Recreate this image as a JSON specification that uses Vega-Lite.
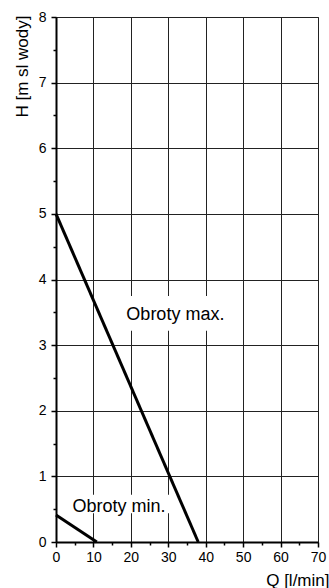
{
  "$schema": "https://vega.github.io/schema/vega-lite/v6.json",
  "width": 262,
  "height": 525,
  "autosize": "none",
  "padding": {"left": 56, "top": 17, "right": 11, "bottom": 46},
  "background": "white",
  "config": {
    "view": {"stroke": "#555", "strokeWidth": 1},
    "font": "Liberation Sans",
    "axis": {
      "labelFont": "Liberation Sans",
      "titleFont": "Liberation Sans",
      "labelColor": "#000",
      "titleColor": "#000",
      "labelFontSize": 14,
      "titleFontSize": 17,
      "titleFontWeight": "normal",
      "domainColor": "#000",
      "domainWidth": 2,
      "tickColor": "#000",
      "tickWidth": 1.5,
      "gridColor": "#222",
      "gridWidth": 1,
      "labelOverlap": false,
      "labelFlush": false,
      "labelBound": false
    }
  },
  "datasets": {
    "curves": [
      {"series": "max", "Q": 0, "H": 5},
      {"series": "max", "Q": 38, "H": 0},
      {"series": "min", "Q": 0, "H": 0.41},
      {"series": "min", "Q": 10.9, "H": 0}
    ],
    "labels": [
      {"text": "Obroty max.", "Q": 18.8, "H": 3.46, "Q1": 18.4, "Q2": 46.5, "H1": 3.22, "H2": 3.75},
      {"text": "Obroty min.", "Q": 4.4, "H": 0.53, "Q1": 4.1, "Q2": 30.2, "H1": 0.44, "H2": 0.72}
    ]
  },
  "resolve": {"axis": {"x": "independent", "y": "independent"}},
  "layer": [
    {
      "data": {"name": "labels"},
      "mark": {"type": "rect", "color": "white"},
      "encoding": {
        "x": {
          "field": "Q1", "type": "quantitative",
          "scale": {"domain": [0, 70], "nice": false, "zero": false},
          "axis": {
            "orient": "bottom",
            "title": "Q  [l/min]",
            "values": [0, 10, 20, 30, 40, 50, 60, 70],
            "format": "d",
            "tickSize": 5,
            "labelPadding": 3,
            "labelOverlap": false,
            "titleAlign": "right",
            "titleAnchor": null,
            "titleX": 273,
            "titleY": 43,
            "titleBaseline": "alphabetic"
          }
        },
        "x2": {"field": "Q2"},
        "y": {
          "field": "H1", "type": "quantitative",
          "scale": {"domain": [0, 8], "nice": false, "zero": false},
          "axis": {
            "orient": "left",
            "title": "H  [m sl wody]",
            "values": [0, 1, 2, 3, 4, 5, 6, 7, 8],
            "format": "d",
            "tickSize": 5,
            "labelPadding": 5,
            "labelOverlap": false,
            "titleAlign": "right",
            "titleAnchor": null,
            "titleAngle": -90,
            "titleX": -29,
            "titleY": -2,
            "titleBaseline": "alphabetic"
          }
        },
        "y2": {"field": "H2"}
      }
    },
    {
      "data": {"name": "curves"},
      "mark": {"type": "line", "color": "#000", "strokeWidth": 3},
      "encoding": {
        "x": {
          "field": "Q", "type": "quantitative",
          "axis": {
            "orient": "bottom",
            "title": null,
            "values": [5, 15, 25, 35, 45, 55, 65],
            "labels": false,
            "grid": false,
            "domain": false,
            "tickSize": 3
          }
        },
        "y": {
          "field": "H", "type": "quantitative",
          "axis": {
            "orient": "left",
            "title": null,
            "values": [0.5, 1.5, 2.5, 3.5, 4.5, 5.5, 6.5, 7.5],
            "labels": false,
            "grid": false,
            "domain": false,
            "tickSize": 3
          }
        },
        "detail": {"field": "series"}
      }
    },
    {
      "data": {"name": "labels"},
      "mark": {"type": "text", "align": "left", "baseline": "middle", "fontSize": 18, "font": "Liberation Sans", "color": "#000"},
      "encoding": {
        "x": {"field": "Q", "type": "quantitative", "axis": null},
        "y": {"field": "H", "type": "quantitative", "axis": null},
        "text": {"field": "text"}
      }
    }
  ]
}
